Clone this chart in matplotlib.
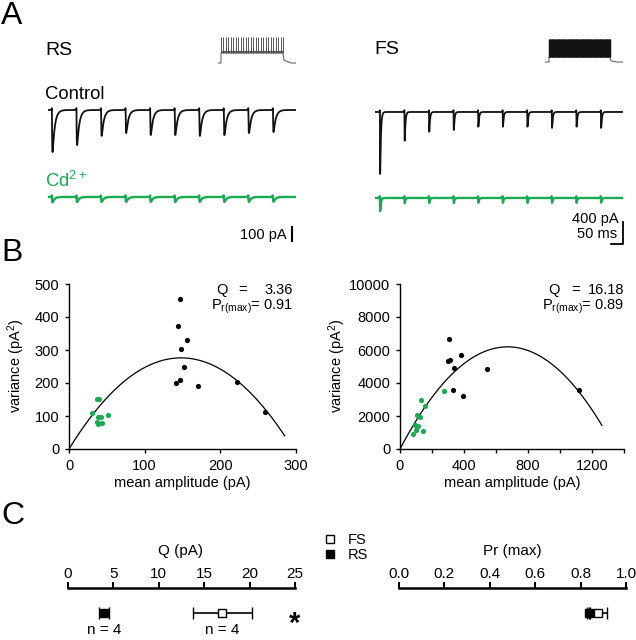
import numpy as np
import matplotlib
matplotlib.use('Agg')
import matplotlib.pyplot as plt
from matplotlib.lines import Line2D

plt.rcParams['font.family'] = ['Liberation Sans', 'DejaVu Sans']
plt.rcParams['font.size'] = 10.5
plt.rcParams['mathtext.default'] = 'regular'

GREEN = '#1aab52'

# ---- panel A: train of 10 stimuli, peak EPSC amplitudes (pA)
stim_first_ms = [16, 20]          # RS, FS
stim_interval_ms = 100
rs_ctrl_amp = [290, 242, 179, 159, 173, 173, 179, 173, 159, 152]
rs_cd_amp = [38, 35, 35, 34, 34, 35, 34, 34, 34, 33]
fs_ctrl_amp = [1129, 522, 359, 328, 268, 268, 268, 291, 268, 291]
fs_cd_amp = [237, 95, 91, 91, 88, 88, 88, 88, 88, 85]

# stimulus inset (schematic envelope, mV) and spike counts
rs_env_t = [-30, 0, 0, 620, 630, 700, 750]
rs_env_v = [-70, -70, -35, -35, -60, -70, -70]
fs_env_t = [-40, 0, 0, 610, 620, 680, 740]
fs_env_v = [-70, -70, -52, -52, -66, -70, -70]
rs_spikes = 26
fs_spikes = 90

# ---- panel B: variance-mean
rs_ctrl_mean = [146.7, 144.5, 148, 156, 151.6, 146.7, 141, 170, 222, 259]
rs_ctrl_var = [455, 373, 303, 330, 248, 209, 200, 191, 203, 112]
rs_cd_mean = [36.6, 39.6, 30.8, 51, 38.8, 42, 36.6, 44, 38.8]
rs_cd_var = [151, 151, 109, 104, 97, 96, 82, 80, 76]
fs_ctrl_mean = [306, 303, 312, 379, 336, 543, 329, 394, 1121]
fs_ctrl_var = [6650, 5330, 5380, 5720, 4930, 4850, 3560, 3210, 3560]
fs_cd_mean = [274, 132, 155, 109, 124, 96, 111, 100, 141, 82]
fs_cd_var = [3515, 2970, 2590, 2060, 1960, 1450, 1390, 1130, 1110, 890]
# parabola var = i*q - i^2/n
rs_fit = dict(q=3.73, n=79.4, end=285)
fs_fit = dict(q=18.42, n=73.0, end=1262)
rs_q_text, rs_pr_text = '3.36', '0.91'
fs_q_text, fs_pr_text = '16.18', '0.89'

# ---- panel C: summary
groups = ['FS', 'RS']
q_mean = [17.0, 3.96]
q_sem = [3.25, 0.52]
pr_mean = [0.876, 0.835]
pr_sem = [0.04, 0.008]
n_cells = [4, 4]

W, H = 636, 640
fig = plt.figure(figsize=(W / 100, H / 100), dpi=100)


def add_ax(x0, y0, x1, y1):
    return fig.add_axes([x0 / W, 1 - y1 / H, (x1 - x0) / W, (y1 - y0) / H])


def put(x, y, s, **kw):
    kw.setdefault('va', 'baseline')
    fig.text(x / W, 1 - y / H, s, **kw)


def epsc(t, onsets, amps, tr, td, blip):
    tk = np.arange(0, 100, 0.01)
    kmax = (np.exp(-tk / td) - np.exp(-tk / tr)).max()
    y = np.zeros_like(t)
    for t0, a in zip(onsets, amps):
        s = t - t0
        m = s >= 0
        y[m] -= a * (np.exp(-s[m] / td) - np.exp(-s[m] / tr)) / kmax
        y[(s > -1.5) & (s < 0)] += blip
    return y


t = np.arange(0, 1010, 0.1)
k = np.arange(10)

# RS traces
ax = add_ax(48, 95, 296, 250)
on = stim_first_ms[0] + stim_interval_ms * k
ax.plot(t, epsc(t, on, rs_ctrl_amp, 1.0, 9.0, 12), color='#111111', lw=1.3)
ax.plot(t, epsc(t, on, rs_cd_amp, 1.0, 8.0, 10) - 600, color=GREEN, lw=1.7)
ax.plot([994, 994], [-905, -805], color='black', lw=1.5, clip_on=False)
ax.set_xlim(0, 1010)
ax.set_ylim(-966, 103.5)
ax.axis('off')

# FS traces
ax = add_ax(375, 95, 623, 250)
on = stim_first_ms[1] + stim_interval_ms * k
ax.plot(t, epsc(t, on, fs_ctrl_amp, 0.4, 3.0, 30), color='#111111', lw=1.3)
ax.plot(t, epsc(t, on, fs_cd_amp, 0.4, 3.0, 30) - 1565, color=GREEN, lw=1.7)
ax.plot([960, 1010, 1010], [-2403, -2403, -2003], color='black', lw=1.3, clip_on=False)
ax.set_xlim(0, 1010)
ax.set_ylim(-2512, 309)
ax.axis('off')

# stimulus insets
for (x0, x1), et, ev, n, col, lw, yl in [
        ((218, 296), rs_env_t, rs_env_v, rs_spikes, '#555555', 0.7, (-84, 35)),
        ((545, 623), fs_env_t, fs_env_v, fs_spikes, '#111111', 1.0, (-87.5, 31.5))]:
    ax = add_ax(x0, 33, x1, 67)
    ax.plot(et, ev, color='#666666', lw=0.8)
    ax.vlines(np.linspace(0, et[3], n), ev[2], 20 if n < 50 else 10,
              color=col, lw=lw)
    ax.fill_between([0, et[3]], ev[2], ev[2] + 8, color=col, lw=0)
    ax.set_xlim(et[0], et[-1])
    ax.set_ylim(*yl)
    ax.axis('off')

put(1, 24, 'A', fontsize=23)
put(45, 55, 'RS', fontsize=14)
put(374, 54, 'FS', fontsize=14)
put(45, 99, 'Control', fontsize=13.3)
put(45, 187, 'Cd$^{2+}$', fontsize=13.3, color=GREEN)
put(287, 239, '100 pA', ha='right', fontsize=10.5)
put(619, 223, '400 pA', ha='right', fontsize=10.5)
put(617, 238, '50 ms', ha='right', fontsize=10.5)

# panel B
put(1, 261, 'B', fontsize=23)


def vm_axes(rect, cm, cv, dm, dv, fit, xmax, ymax, xt, yt, xminor):
    ax = add_ax(*rect)
    i = np.linspace(0, fit['end'], 300)
    ax.plot(i, i * fit['q'] - i ** 2 / fit['n'], color='black', lw=0.9)
    ax.scatter(cm, cv, s=14, color='black', lw=0, zorder=3)
    ax.scatter(dm, dv, s=14, color=GREEN, lw=0, zorder=3)
    ax.set_xlim(0, xmax)
    ax.set_ylim(0, ymax)
    ax.set_xticks(xt)
    if xminor:
        ax.set_xticks(xminor, minor=True)
    ax.set_yticks(yt)
    for s in ['top', 'right']:
        ax.spines[s].set_visible(False)
    for s in ['left', 'bottom']:
        ax.spines[s].set_linewidth(1.0)
    ax.tick_params(which='both', direction='out', length=3, width=1, pad=4,
                   labelsize=10.5)
    return ax


vm_axes((69, 284, 296, 449), rs_ctrl_mean, rs_ctrl_var, rs_cd_mean, rs_cd_var,
        rs_fit, 300, 500, [0, 100, 200, 300], range(0, 501, 100), None)
vm_axes((400, 284, 624, 449), fs_ctrl_mean, fs_ctrl_var, fs_cd_mean, fs_cd_var,
        fs_fit, 1400, 10000, [0, 400, 800, 1200], range(0, 10001, 2000),
        [200, 600, 1000, 1400])

for xc, xl in [(16, 182), (337, 512)]:
    put(xc, 366, 'variance (pA$^2$)', rotation=90, ha='center', va='center')
    put(xl, 487, 'mean amplitude (pA)', ha='center')

for (xq, xe, xr), qt, pt in [((216, 243, 293), rs_q_text, rs_pr_text),
                             ((548, 576, 624), fs_q_text, fs_pr_text)]:
    put(xq, 294, 'Q')
    put(xe, 294, '=', ha='center')
    put(xr, 294, qt, ha='right')
    put(xr, 310, 'P$_{r(max)}$= ' + pt, ha='right')

# panel C
put(1, 524, 'C', fontsize=23)


def summary_axes(rect, means, sems, xmax, ticks, fmt):
    ax = add_ax(*rect)
    for g, m, e in zip(groups, means, sems):
        face = 'white' if g == 'FS' else 'black'
        ax.errorbar([m], [0], xerr=[e], fmt='s', ms=6, mfc=face, mec='black',
                    mew=1.0, ecolor='black', elinewidth=1.2, capsize=4.5,
                    capthick=1.6, zorder=3 if g == 'FS' else 2)
    ax.set_xlim(0, xmax)
    ax.set_ylim(-1, 1)
    ax.set_xticks(ticks)
    ax.set_xticklabels([fmt % v for v in ticks])
    ax.xaxis.set_ticks_position('top')
    ax.set_yticks([])
    for s in ['left', 'right', 'bottom']:
        ax.spines[s].set_visible(False)
    ax.spines['top'].set_linewidth(1.8)
    ax.tick_params(direction='out', length=4.3, width=1.5, pad=1, labelsize=11)
    ax.patch.set_visible(False)
    return ax


axq = summary_axes((68, 588, 295, 638), q_mean, q_sem, 25, list(range(0, 26, 5)), '%d')
axp = summary_axes((399, 588, 626, 638), pr_mean, pr_sem, 1.0,
                   [0.0, 0.2, 0.4, 0.6, 0.8, 1.0], '%.1f')

put(181, 555, 'Q (pA)', ha='center', fontsize=11)
put(512, 555, 'Pr (max)', ha='center', fontsize=11)
for m, n in zip(q_mean, n_cells):
    axq.text(m, -0.98, 'n = %d' % n, ha='center', va='bottom', fontsize=11,
             clip_on=False)
axq.text(25, -0.45, '*', ha='center', va='center', fontsize=21,
         fontweight='bold')

handles = [Line2D([], [], marker='s', ls='none', ms=6, mfc='white', mec='black'),
           Line2D([], [], marker='s', ls='none', ms=6, mfc='black', mec='black')]
fig.legend(handles, groups, loc='upper left', bbox_to_anchor=(324 / W, 1 - 533 / H),
           frameon=False, borderpad=0, borderaxespad=0, handlelength=0.8,
           handletextpad=0.8, labelspacing=0.05, fontsize=10.5)

fig.savefig('out.png', dpi=100)
